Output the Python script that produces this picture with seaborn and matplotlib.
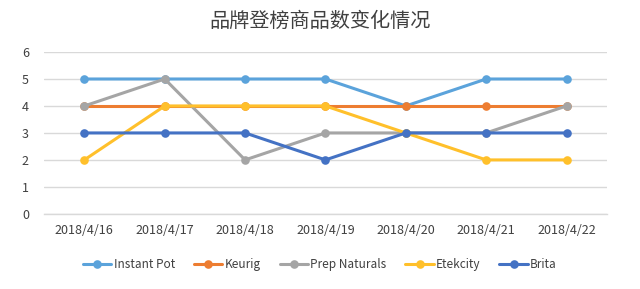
import matplotlib
matplotlib.use("Agg")
import matplotlib.pyplot as plt
import seaborn as sns
import pandas as pd
from matplotlib.lines import Line2D

dates = ["2018/4/16", "2018/4/17", "2018/4/18", "2018/4/19", "2018/4/20", "2018/4/21", "2018/4/22"]
instant_pot = [5, 5, 5, 5, 4, 5, 5]
keurig = [4, 4, 4, 4, 4, 4, 4]
prep_naturals = [4, 5, 2, 3, 3, 3, 4]
etekcity = [2, 4, 4, 4, 3, 2, 2]
brita = [3, 3, 3, 2, 3, 3, 3]
series_names = ["Instant Pot", "Keurig", "Prep Naturals", "Etekcity", "Brita"]
colors = ["#5BA3DB", "#ED7D31", "#A5A5A5", "#FFC02B", "#4472C4"]
title = "品牌登榜商品数变化情况"

sns.set_theme(style="white")
plt.rcParams["font.family"] = ["Noto Sans CJK SC", "DejaVu Sans"]

rows = []
for name, vals in zip(series_names, [instant_pot, keurig, prep_naturals, etekcity, brita]):
    for i, v in enumerate(vals):
        rows.append({"pos": i, "date": dates[i], "value": v, "brand": name})
df = pd.DataFrame(rows)

fig = plt.figure(figsize=(6.4, 2.89), dpi=100)
ax = fig.add_axes([0.069, 0.26, 0.879, 0.56])

sns.lineplot(data=df, x="pos", y="value", hue="brand", hue_order=series_names,
             palette=colors, marker="o", markersize=6.2, markeredgewidth=0,
             linewidth=2.2, ax=ax, legend=False)

ax.set_xlim(-0.5, len(dates) - 0.5)
ax.set_ylim(0, 6)
ax.set_yticks(range(0, 7))
ax.set_xticks(range(len(dates)))
ax.set_xticklabels(dates)
ax.set_xticks([i - 0.5 for i in range(len(dates) + 1)], minor=True)
ax.tick_params(axis="x", which="major", length=0, labelsize=9, labelcolor="#404040", pad=7)
ax.tick_params(axis="x", which="minor", length=4, color="#D9D9D9", width=1, direction="out")
ax.tick_params(axis="y", length=0, labelsize=9, labelcolor="#404040", pad=11)
ax.grid(axis="y", color="#D9D9D9", linewidth=1)
ax.grid(axis="x", visible=False)
for s in ["left", "right", "top"]:
    ax.spines[s].set_visible(False)
ax.spines["bottom"].set_color("#D9D9D9")
ax.spines["bottom"].set_linewidth(1)
ax.set_xlabel("")
ax.set_ylabel("")

fig.text(0.5, 0.925, title, ha="center", va="center", fontsize=14.5, color="#404040")

handles = [Line2D([0], [0], color=c, marker="o", markersize=6.2, markeredgewidth=0, linewidth=2.2)
           for c in colors]
fig.legend(handles, series_names, loc="center", bbox_to_anchor=(0.5, 0.085), ncol=5,
           frameon=False, fontsize=8.5, handlelength=2.4, handletextpad=0.2, columnspacing=1.6,
           labelcolor="#404040")

fig.savefig("out.png", dpi=100)
